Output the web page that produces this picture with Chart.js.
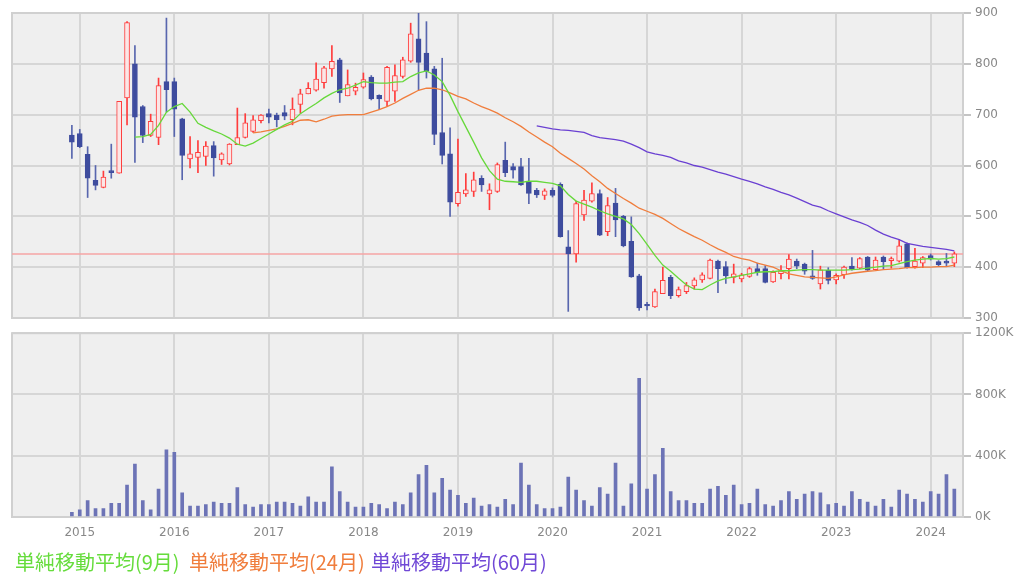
<!DOCTYPE html>
<html>
<head>
<meta charset="utf-8">
<script src="https://cdn.jsdelivr.net/npm/chart.js@4.4.1/dist/chart.umd.min.js"></script>
<style>
    body { margin: 0; background: #fff; width: 1024px; height: 588px; overflow: hidden; position: relative; }
    #priceChart { position: absolute; left: 0; top: 0; }
    #volumeChart { position: absolute; left: 0; top: 322px; }
    .legend { position: absolute; top: 549px; font-family: "Noto Sans CJK JP", sans-serif; font-size: 20px; line-height: 26px; white-space: nowrap; }
</style>
</head>
<body>
<canvas id="priceChart" width="1024" height="330"></canvas>
<canvas id="volumeChart" width="1024" height="228"></canvas>
<div class="legend" id="leg9" style="left:15px;color:#66dc3c">単純移動平均(9月)</div>
<div class="legend" id="leg24" style="left:189px;color:#f07d3c">単純移動平均(24月)</div>
<div class="legend" id="leg60" style="left:371px;color:#7048d6">単純移動平均(60月)</div>
<script>
// months counted from Jan 2015 = 0, first candle is Dec 2014
const firstMonth = -1;

const opens = [660, 663, 622, 571, 557, 590, 585, 733, 800, 716, 659, 655, 765,
    765, 692, 613, 616, 618, 639, 611, 603, 641, 655, 667, 688,
    702, 699, 704, 690, 720, 741, 748, 763, 790, 808, 737, 746,
    754, 774, 738, 726, 746, 775, 805, 849, 821, 790, 665, 623,
    525, 544, 549, 575, 544, 549, 610, 598, 598, 567, 551, 541,
    551, 563, 440, 426, 503, 530, 545, 470, 526, 500, 451, 383,
    327, 322, 348, 380, 344, 352, 363, 375, 378, 412, 401, 380,
    377, 382, 397, 397, 371, 387, 397, 412, 406, 383, 367, 394,
    375, 385, 402, 398, 420, 395, 420, 413, 412, 446, 401, 408,
    423, 411, 412, 408];
const highs = [679, 671, 637, 600, 589, 642, 726, 883, 836, 718, 701, 772, 890,
    772, 693, 657, 649, 647, 647, 625, 643, 713, 702, 698, 700,
    711, 703, 718, 733, 750, 763, 802, 795, 836, 811, 788, 762,
    782, 777, 739, 795, 798, 813, 880, 900, 883, 795, 811, 674,
    652, 584, 587, 580, 564, 605, 646, 604, 614, 614, 555, 554,
    556, 566, 472, 530, 551, 566, 552, 537, 555, 502, 499, 386,
    331, 357, 400, 384, 361, 370, 379, 389, 416, 414, 411, 406,
    388, 400, 408, 403, 393, 403, 425, 416, 408, 433, 402, 399,
    387, 402, 419, 419, 421, 420, 422, 420, 454, 448, 437, 421,
    426, 413, 427, 430];
const lows = [614, 635, 537, 552, 556, 575, 585, 680, 606, 645, 657, 641, 705,
    657, 572, 595, 586, 600, 579, 602, 601, 641, 654, 665, 684,
    684, 676, 690, 680, 703, 741, 746, 752, 775, 724, 737, 739,
    752, 729, 710, 716, 726, 772, 803, 749, 772, 641, 603, 500,
    520, 539, 539, 549, 513, 547, 578, 575, 561, 525, 537, 533,
    538, 459, 313, 410, 492, 528, 462, 462, 460, 440, 380, 315,
    316, 321, 348, 338, 341, 348, 357, 370, 377, 350, 368, 369,
    371, 380, 384, 369, 370, 377, 377, 397, 386, 376, 357, 367,
    367, 378, 394, 397, 393, 394, 397, 398, 410, 398, 398, 399,
    414, 403, 401, 401];
const closes = [646, 637, 575, 561, 577, 586, 726, 881, 695, 659, 687, 757, 749,
    711, 620, 623, 626, 638, 615, 623, 642, 655, 684, 690, 699,
    695, 690, 697, 711, 741, 752, 770, 792, 805, 743, 759, 754,
    769, 731, 731, 793, 777, 808, 859, 803, 785, 661, 620, 528,
    547, 552, 572, 562, 552, 602, 586, 591, 562, 545, 542, 550,
    541, 460, 426, 525, 532, 545, 463, 521, 493, 442, 381, 320,
    324, 352, 374, 344, 356, 364, 375, 385, 414, 397, 383, 387,
    385, 397, 390, 370, 390, 393, 416, 402, 392, 378, 395, 374,
    384, 400, 397, 417, 394, 414, 411, 417, 442, 399, 412, 419,
    416, 405, 408, 426];
// monthly volume, thousands of shares
const volumes = [30, 47, 107, 55, 55, 90, 90, 209, 345, 107, 47, 183, 439,
    422, 158, 72, 72, 81, 98, 90, 90, 192, 81, 64, 81,
    81, 98, 98, 90, 72, 132, 98, 98, 328, 166, 98, 64,
    64, 90, 81, 55, 98, 81, 158, 277, 337, 158, 252, 175,
    141, 90, 124, 72, 81, 64, 115, 81, 352, 209, 81, 55,
    55, 64, 260, 175, 107, 72, 192, 149, 352, 72, 217, 906,
    183, 277, 448, 166, 107, 107, 90, 90, 183, 200, 141, 209,
    81, 90, 183, 81, 72, 107, 166, 115, 149, 166, 158, 81,
    90, 72, 166, 115, 98, 72, 115, 64, 175, 149, 115, 98,
    166, 149, 277, 183];

// moving averages, each starts at its own month
const ma9Start = 7;
const ma9 = [656, 657, 661, 679, 705, 716, 722, 705, 683, 675, 668, 662, 654, 642, 638,
    644, 653, 662, 671, 680, 687, 702, 712, 722, 733, 742, 749, 752, 758, 765,
    763, 762, 762, 764, 765, 775, 782, 786, 778, 765, 738, 706, 676, 646, 615,
    590, 573, 569, 568, 567, 569, 569, 567, 565, 560, 543, 530, 524, 518, 511,
    505, 500, 495, 484, 466, 445, 423, 404, 392, 378, 365, 357, 356, 365, 373,
    378, 381, 384, 387, 390, 391, 391, 393, 393, 394, 395, 395, 394, 394, 394,
    394, 395, 396, 398, 400, 402, 403, 407, 411, 414, 416, 417, 416, 417, 420];
const ma24Start = 22;
const ma24 = [664, 666, 669, 672, 677, 683, 689, 690, 686, 691, 697, 699, 700, 700, 700,
    705, 710, 716, 723, 732, 740, 748, 752, 752, 749, 743, 736, 731, 723, 716,
    710, 703, 694, 686, 677, 666, 656, 646, 637, 624, 614, 604, 593, 580, 568,
    555, 545, 535, 526, 516, 510, 504, 496, 486, 476, 468, 460, 453, 444, 436,
    429, 421, 417, 414, 408, 404, 400, 393, 387, 384, 381, 380, 379, 378, 381,
    385, 388, 390, 392, 393, 395, 396, 397, 399, 399, 400, 400, 401, 401, 404];
const ma60Start = 58;
const ma60 = [678, 675, 672, 670, 669, 667, 665, 659, 655, 653, 651, 648, 642, 635, 627,
    623, 620, 616, 609, 605, 600, 597, 592, 587, 583, 578, 573, 569, 564, 558,
    553, 547, 542, 536, 529, 522, 518, 511, 505, 499, 493, 488, 482, 473, 465,
    459, 454, 447, 444, 441, 439, 437, 435, 432];

const lastPrice = 426;
const yearTicks = [0, 12, 24, 36, 48, 60, 72, 84, 96, 108];
const yearLabels = ['2015', '2016', '2017', '2018', '2019', '2020', '2021', '2022', '2023', '2024'];
const xMin = -8.6;
const xMax = 112.1;

const upColor = '#ff3c3c';
const upFill = '#fbe6e6';
const downColor = '#3e4c9e';
const downWick = '#5866ae';
const gridColor = '#d6d6d6';
const labelFont = {family: 'DejaVu Sans', size: 12};

const months = opens.map((o, i) => firstMonth + i);
const isUp = closes.map((c, i) => c >= opens[i]);
const maPoints = (arr, start) => arr.map((v, i) => ({x: start + i, y: v}));

const plotBg = {
    id: 'plotBg',
    beforeDraw(chart) {
        const {ctx, chartArea: a} = chart;
        ctx.save();
        ctx.fillStyle = '#efefef';
        ctx.fillRect(a.left, a.top, a.right - a.left, a.bottom - a.top);
        ctx.restore();
    },
    beforeDatasetsDraw(chart) {
        const {ctx, chartArea: a} = chart;
        ctx.save();
        ctx.strokeStyle = '#d0d0d0';
        ctx.lineWidth = 2;
        ctx.strokeRect(a.left, a.top, a.right - a.left, a.bottom - a.top);
        ctx.restore();
    }
};

const xAxis = (showLabels) => ({
    type: 'linear',
    min: xMin,
    max: xMax,
    offset: false,
    afterBuildTicks: (s) => { s.ticks = yearTicks.map(v => ({value: v})); },
    afterFit: (s) => { s.height = showLabels ? 33 : 0; },
    grid: {color: gridColor, lineWidth: 2, drawTicks: false, offset: false},
    border: {display: false},
    ticks: {
        display: showLabels,
        padding: 9,
        color: '#888',
        font: labelFont,
        maxRotation: 0,
        autoSkip: false,
        callback: (v, i) => yearLabels[i]
    }
});

new Chart(document.getElementById('priceChart'), {
    type: 'bar',
    data: {
        datasets: [{
            type: 'line',
            data: maPoints(ma9, ma9Start),
            borderColor: '#66d83a',
            borderWidth: 1.3,
            pointRadius: 0,
            order: 0
        }, {
            type: 'line',
            data: maPoints(ma24, ma24Start),
            borderColor: '#f07d3c',
            borderWidth: 1.3,
            pointRadius: 0,
            order: 0
        }, {
            type: 'line',
            data: maPoints(ma60, ma60Start),
            borderColor: '#6a40d2',
            borderWidth: 1.3,
            pointRadius: 0,
            order: 0
        }, {
            data: months.map((m, i) => ({x: m, y: [opens[i], closes[i]]})),
            backgroundColor: (c) => isUp[c.dataIndex] ? upFill : downColor,
            borderColor: (c) => isUp[c.dataIndex] ? upColor : downColor,
            borderWidth: 1,
            borderSkipped: false,
            barThickness: 5,
            grouped: false,
            order: 1
        }, {
            data: months.map((m, i) => ({x: m, y: [lows[i], highs[i]]})),
            backgroundColor: (c) => isUp[c.dataIndex] ? upColor : downWick,
            barThickness: 1,
            grouped: false,
            order: 2
        }, {
            type: 'line',
            data: [{x: xMin, y: lastPrice}, {x: xMax, y: lastPrice}],
            borderColor: '#f6a4a4',
            borderWidth: 1.5,
            pointRadius: 0,
            order: 3
        }]
    },
    options: {
        responsive: false,
        animation: false,
        devicePixelRatio: 1,
        layout: {padding: {left: 12, right: 0, top: 13, bottom: 12}},
        plugins: {legend: {display: false}, tooltip: {enabled: false}},
        scales: {
            x: xAxis(false),
            y: {
                position: 'right',
                min: 300,
                max: 900,
                afterFit: (s) => { s.width = 61; },
                grid: {color: gridColor, lineWidth: 2, drawTicks: true, tickLength: 8, tickColor: '#c4c4c4'},
                border: {display: false},
                ticks: {stepSize: 100, padding: 4, color: '#888', font: labelFont}
            }
        }
    },
    plugins: [plotBg]
});

new Chart(document.getElementById('volumeChart'), {
    type: 'bar',
    data: {
        datasets: [{
            data: months.map((m, i) => ({x: m, y: volumes[i]})),
            backgroundColor: '#6c73b6',
            barThickness: 3
        }]
    },
    options: {
        responsive: false,
        animation: false,
        devicePixelRatio: 1,
        layout: {padding: {left: 12, right: 0, top: 9, bottom: 0}},
        plugins: {legend: {display: false}, tooltip: {enabled: false}},
        scales: {
            x: xAxis(true),
            y: {
                position: 'right',
                min: 0,
                max: 1200,
                afterFit: (s) => { s.width = 61; },
                grid: {color: gridColor, lineWidth: 2, drawTicks: true, tickLength: 8, tickColor: '#c4c4c4'},
                border: {display: false},
                ticks: {stepSize: 400, padding: 4, color: '#888', font: labelFont, callback: (v) => v + 'K'}
            }
        }
    },
    plugins: [plotBg]
});
</script>
</body>
</html>
